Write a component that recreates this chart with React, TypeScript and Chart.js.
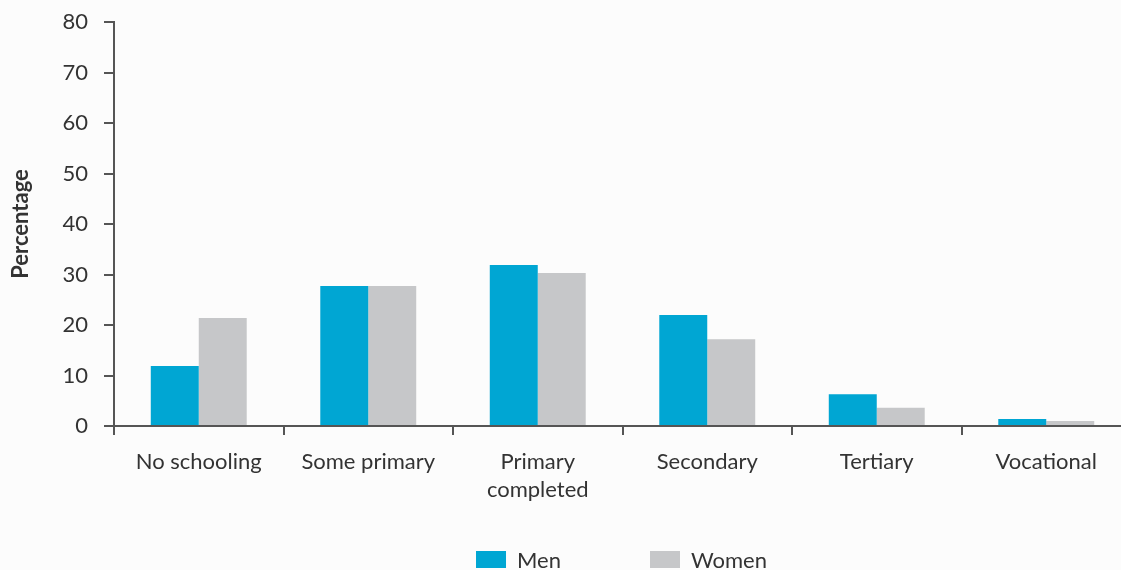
import React, { useEffect, useRef } from "react";
import { Chart, registerables } from "chart.js";

Chart.register(...registerables);

const categories: (string | string[])[] = [
  "No schooling",
  "Some primary",
  ["Primary", "completed"],
  "Secondary",
  "Tertiary",
  "Vocational",
];
const menValues = [11.9, 27.7, 31.9, 22.0, 6.3, 1.4];
const womenValues = [21.4, 27.7, 30.3, 17.2, 3.6, 1.0];
const seriesLabels = ["Men", "Women"];
const seriesColors = ["#00A6D3", "#C6C7C9"];
const yTicks = { min: 0, max: 80, step: 10 };
const yTitle = "Percentage";

const FONT = "Lato, 'DejaVu Sans', sans-serif";
const TEXT = "#333333";
const AXIS = "#555555";

const customLegend = {
  id: "customLegend",
  afterDraw(chart: any) {
    const { ctx, chartArea } = chart;
    const datasets = chart.data.datasets;
    ctx.save();
    ctx.font = `22px ${FONT}`;
    const boxW = 30;
    const boxH = 17;
    const textGap = 11;
    const itemGap = 89;
    const widths = datasets.map(
      (d: any) => boxW + textGap + ctx.measureText(d.label).width
    );
    const total =
      widths.reduce((a: number, b: number) => a + b, 0) +
      itemGap * (datasets.length - 1);
    let x = (chartArea.left + chartArea.right) / 2 - total / 2 - 1;
    const boxTop = chart.height - 19;
    const baseline = chart.height - 2;
    datasets.forEach((d: any, i: number) => {
      ctx.fillStyle = d.backgroundColor;
      ctx.fillRect(x, boxTop, boxW, boxH);
      ctx.fillStyle = TEXT;
      ctx.textAlign = "left";
      ctx.textBaseline = "alphabetic";
      ctx.fillText(d.label, x + boxW + textGap, baseline);
      x += widths[i] + itemGap;
    });
    ctx.restore();
  },
};

const bgPlugin = {
  id: "bg",
  beforeDraw(chart: any) {
    const { ctx } = chart;
    ctx.save();
    ctx.fillStyle = "#FCFCFC";
    ctx.fillRect(0, 0, chart.width, chart.height);
    ctx.restore();
  },
};

export default function App() {
  const ref = useRef<HTMLCanvasElement | null>(null);

  useEffect(() => {
    if (!ref.current) return;
    const chart = new Chart(ref.current, {
      type: "bar",
      data: {
        labels: categories,
        datasets: [
          {
            label: seriesLabels[0],
            data: menValues,
            backgroundColor: seriesColors[0],
            categoryPercentage: 0.566,
            barPercentage: 1.0,
          },
          {
            label: seriesLabels[1],
            data: womenValues,
            backgroundColor: seriesColors[1],
            categoryPercentage: 0.566,
            barPercentage: 1.0,
          },
        ],
      },
      options: {
        responsive: false,
        animation: false,
        layout: { padding: { top: 22, right: 9, bottom: 0, left: 0 } },
        plugins: {
          legend: { display: false },
          tooltip: { enabled: false },
        },
        scales: {
          x: {
            grid: {
              display: true,
              offset: true,
              drawOnChartArea: false,
              drawTicks: true,
              tickLength: 9,
              color: AXIS,
              lineWidth: 2,
            },
            border: { display: true, color: AXIS, width: 2 },
            ticks: {
              color: TEXT,
              font: { family: FONT, size: 22, lineHeight: 1.28 },
              padding: 13,
              maxRotation: 0,
              autoSkip: false,
            },
            afterFit(scale: any) {
              scale.height = 144;
            },
          },
          y: {
            min: yTicks.min,
            max: yTicks.max,
            grid: {
              display: true,
              drawOnChartArea: false,
              drawTicks: true,
              tickLength: 10,
              color: AXIS,
              lineWidth: 2,
            },
            border: { display: true, color: AXIS, width: 2 },
            ticks: {
              stepSize: yTicks.step,
              color: TEXT,
              font: { family: FONT, size: 22 },
              padding: 16,
            },
            title: {
              display: true,
              text: yTitle,
              color: TEXT,
              font: { family: FONT, size: 22, weight: "bold", lineHeight: 1.2 },
              padding: { top: 8, bottom: 4 },
            },
            afterFit(scale: any) {
              scale.width = 114;
              scale.paddingTop = 0;
              scale.paddingBottom = 0;
            },
          },
        },
      },
      plugins: [bgPlugin, customLegend],
    });
    return () => chart.destroy();
  }, []);

  return (
    <div
      style={{
        position: "absolute",
        left: 0,
        top: 0,
        width: 1121,
        height: 570,
        overflow: "hidden",
        background: "#FCFCFC",
      }}
    >
      <canvas ref={ref} width={1140} height={570} style={{ display: "block" }} />
    </div>
  );
}
